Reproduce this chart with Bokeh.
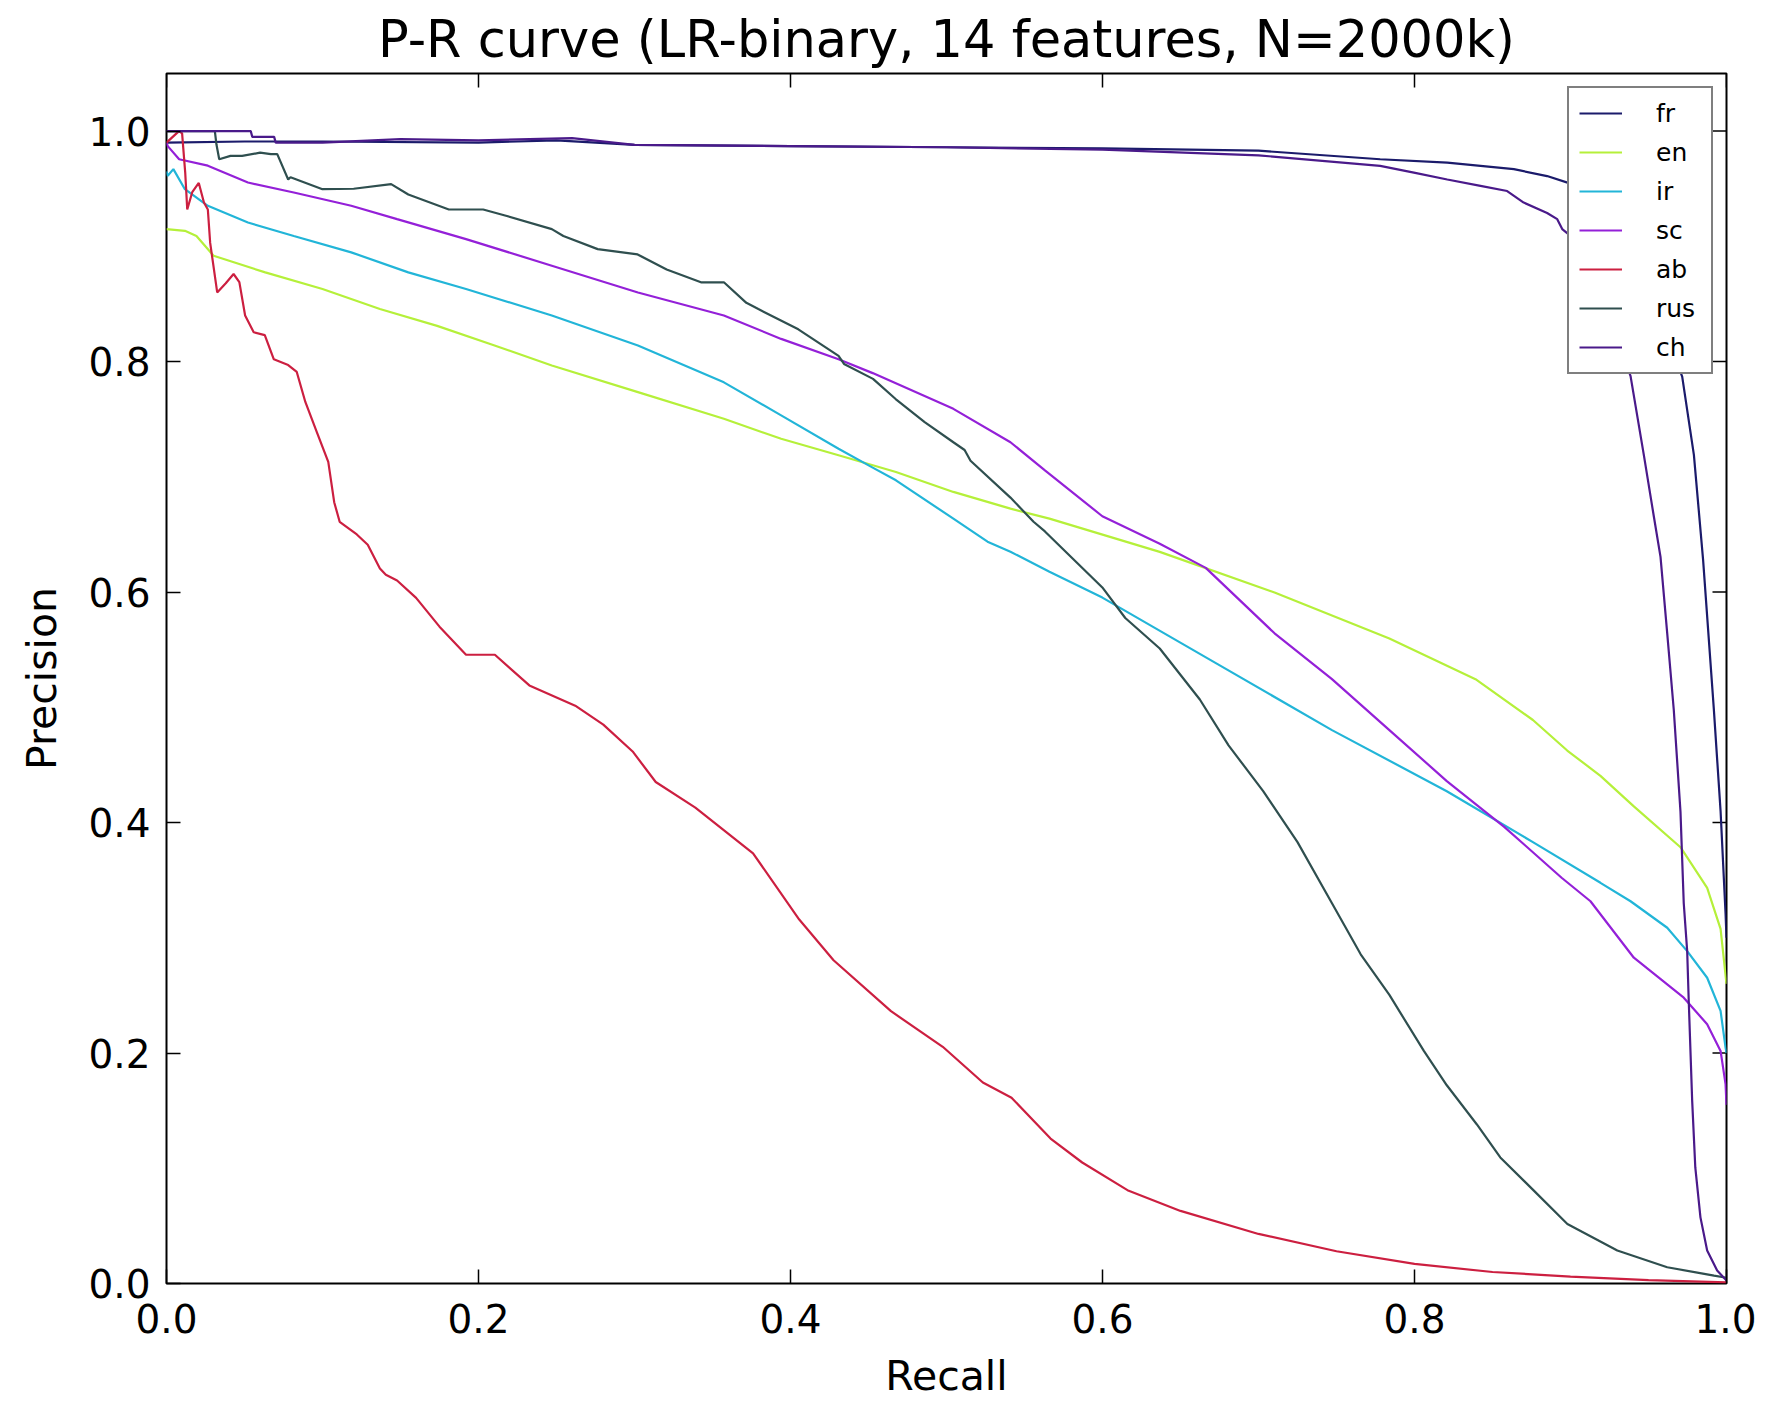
import math
from bokeh.plotting import figure
from bokeh.models import FixedTicker, Legend, LegendItem, Range1d, NumeralTickFormatter
from bokeh.embed import file_html
from bokeh.resources import INLINE

# ---- data ----
labels = ["fr", "en", "ir", "sc", "ab", "rus", "ch"]
colors = ["#1b1b6b", "#b5f03a", "#22b5d8", "#9420d8", "#cc1f40", "#2f4f4f", "#4a1a8a"]

recall_fr = [0.0, 0.05, 0.1, 0.2, 0.25, 0.3, 0.4, 0.5, 0.6, 0.7, 0.778, 0.821, 0.8637, 0.885, 0.901,
             0.94, 0.9716, 0.9791, 0.985, 0.9919, 0.9962, 0.9994, 1.0]
prec_fr = [0.99, 0.991, 0.991, 0.99, 0.992, 0.988, 0.987, 0.986, 0.985, 0.983, 0.9756, 0.9727, 0.967, 0.961, 0.954,
           0.90, 0.787, 0.719, 0.628, 0.498, 0.41, 0.321, 0.30]

recall_en = [0.0, 0.0118, 0.0192, 0.0302, 0.0633, 0.100, 0.1368, 0.1735, 0.2103, 0.247, 0.3022, 0.3573, 0.394,
             0.4308, 0.4676, 0.5044, 0.541, 0.566, 0.6367, 0.7103, 0.7839, 0.8391, 0.8759, 0.8979, 0.9192,
             0.9406, 0.9705, 0.9876, 0.9962, 1.0]
prec_en = [0.915, 0.9135, 0.909, 0.8918, 0.8774, 0.863, 0.8456, 0.831, 0.814, 0.7966, 0.7735, 0.7504, 0.733,
           0.7187, 0.7042, 0.6869, 0.6724, 0.6637, 0.6349, 0.5996, 0.5598, 0.5244, 0.489, 0.4625, 0.4405,
           0.414, 0.3786, 0.3433, 0.3078, 0.26]

recall_ir = [0.0, 0.0008, 0.0044, 0.0118, 0.0265, 0.0522, 0.0816, 0.1184, 0.155, 0.192, 0.247, 0.3022, 0.3573,
             0.394, 0.4308, 0.4527, 0.4676, 0.5044, 0.5263, 0.541, 0.566, 0.5999, 0.6735, 0.7471, 0.8207,
             0.8759, 0.9192, 0.9385, 0.962, 0.9748, 0.9876, 0.9962, 0.9994, 1.0]
prec_ir = [0.965, 0.9612, 0.967, 0.9496, 0.9352, 0.9207, 0.909, 0.8948, 0.8774, 0.863, 0.840, 0.814, 0.782,
           0.7533, 0.7244, 0.708, 0.697, 0.6637, 0.6437, 0.635, 0.6176, 0.5952, 0.5377, 0.4802, 0.4272,
           0.383, 0.3477, 0.3317, 0.3087, 0.2884, 0.2653, 0.2365, 0.2047, 0.20]

recall_sc = [0.0, 0.0008, 0.0081, 0.0265, 0.0522, 0.0816, 0.1184, 0.1478, 0.192, 0.247, 0.3022, 0.3573, 0.394,
             0.4308, 0.4527, 0.5044, 0.541, 0.5631, 0.5999, 0.6367, 0.6662, 0.7103, 0.7471, 0.7839, 0.8207,
             0.8575, 0.8943, 0.9128, 0.9406, 0.9726, 0.9876, 0.9962, 0.9994, 1.0]
prec_sc = [0.99, 0.987, 0.9756, 0.970, 0.9554, 0.9467, 0.9352, 0.9236, 0.9063, 0.8832, 0.860, 0.840, 0.8197,
           0.802, 0.79, 0.759, 0.730, 0.7056, 0.6658, 0.642, 0.621, 0.5642, 0.5244, 0.4802, 0.436,
           0.3963, 0.3521, 0.3317, 0.2827, 0.248, 0.225, 0.2018, 0.173, 0.155]

recall_ab = [0.0, 0.008, 0.010, 0.012, 0.0133, 0.0165, 0.0207, 0.024, 0.0265, 0.028, 0.0325, 0.038, 0.043,
             0.0467, 0.0504, 0.0559, 0.063, 0.0688, 0.078, 0.0835, 0.089, 0.0963, 0.1037, 0.1075, 0.111,
             0.122, 0.129, 0.1368, 0.1406, 0.1478, 0.16, 0.175, 0.192, 0.2105, 0.2326, 0.262, 0.28, 0.2988,
             0.3136, 0.339, 0.376, 0.4056, 0.4276, 0.4644, 0.4976, 0.5233, 0.5417, 0.5667, 0.587, 0.616,
             0.65, 0.7, 0.75, 0.8, 0.85, 0.9, 0.95, 1.0]
prec_ab = [0.99, 1.0, 0.998, 0.964, 0.932, 0.947, 0.955, 0.938, 0.932, 0.903, 0.860, 0.868, 0.876,
           0.869, 0.840, 0.8255, 0.823, 0.802, 0.797, 0.791, 0.765, 0.739, 0.713, 0.678, 0.661,
           0.650, 0.641, 0.6205, 0.615, 0.61, 0.595, 0.57, 0.5456, 0.5456, 0.519, 0.5014, 0.485, 0.4617,
           0.4352, 0.413, 0.3733, 0.3158, 0.2805, 0.2363, 0.2054, 0.1744, 0.1612, 0.1258, 0.105, 0.081,
           0.063, 0.043, 0.028, 0.017, 0.010, 0.006, 0.003, 0.001]

recall_rus = [0.0, 0.031, 0.032, 0.0338, 0.041, 0.0485, 0.060, 0.0669, 0.071, 0.078, 0.0795, 0.100, 0.12,
              0.144, 0.155, 0.181, 0.203, 0.2176, 0.247, 0.2544, 0.2764, 0.302, 0.3206, 0.3426, 0.3573,
              0.3717, 0.3794, 0.405, 0.4308, 0.4343, 0.4529, 0.4674, 0.486, 0.5044, 0.5116, 0.5154, 0.541,
              0.5558, 0.5631, 0.5999, 0.6146, 0.6367, 0.6624, 0.6808, 0.703, 0.725, 0.7471, 0.7655, 0.7839,
              0.806, 0.8207, 0.84, 0.855, 0.8765, 0.898, 0.930, 0.962, 0.992, 1.0]
prec_rus = [1.0, 1.0, 0.9886, 0.9756, 0.9785, 0.9785, 0.9813, 0.980, 0.98, 0.958, 0.96, 0.9496, 0.95,
            0.954, 0.945, 0.932, 0.932, 0.9266, 0.915, 0.909, 0.8976, 0.893, 0.880, 0.8688, 0.8688,
            0.851, 0.8456, 0.828, 0.805, 0.798, 0.785, 0.7675, 0.7475, 0.730, 0.7233, 0.714, 0.682,
            0.661, 0.6526, 0.604, 0.5775, 0.551, 0.5068, 0.467, 0.4272, 0.383, 0.33, 0.2857, 0.2504,
            0.2018, 0.172, 0.138, 0.1094, 0.0806, 0.0517, 0.0286, 0.0141, 0.0069, 0.005]

recall_ch = [0.0, 0.054, 0.055, 0.069, 0.07, 0.1, 0.15, 0.2, 0.26, 0.3, 0.4, 0.5, 0.6, 0.7, 0.778, 0.7996,
             0.821, 0.8423, 0.8594, 0.870, 0.885, 0.8915, 0.8947, 0.901, 0.92, 0.9385, 0.947, 0.9534,
             0.9577, 0.962, 0.9662, 0.9705, 0.9726, 0.9748, 0.9758, 0.978, 0.980, 0.9833, 0.9876, 0.994, 1.0]
prec_ch = [1.0, 1.0, 0.995, 0.995, 0.99, 0.99, 0.993, 0.992, 0.994, 0.988, 0.987, 0.986, 0.984, 0.979,
           0.9698, 0.964, 0.958, 0.9525, 0.948, 0.938, 0.929, 0.9236, 0.915, 0.908, 0.86, 0.7874, 0.719,
           0.6658, 0.6305, 0.5642, 0.4979, 0.4095, 0.33, 0.2884, 0.245, 0.1585, 0.1007, 0.0574, 0.0286,
           0.0113, 0.0026]

xs = [recall_fr, recall_en, recall_ir, recall_sc, recall_ab, recall_rus, recall_ch]
ys = [prec_fr, prec_en, prec_ir, prec_sc, prec_ab, prec_rus, prec_ch]

x_ticks = [0.0, 0.2, 0.4, 0.6, 0.8, 1.0]
y_ticks = [0.0, 0.2, 0.4, 0.6, 0.8, 1.0]
X_MAX = 1.0
Y_MAX = 1.05

FONT = "DejaVu Sans"

p = figure(frame_width=1560, frame_height=1210,
           x_range=Range1d(0, X_MAX), y_range=Range1d(0, Y_MAX),
           output_backend="svg", toolbar_location=None,
           min_border_left=166, min_border_top=73, min_border_right=30, min_border_bottom=110,
           title="P-R curve (LR-binary, 14 features, N=2000k)")

p.title.text_font = FONT
p.title.text_font_size = "51px"
p.title.text_font_style = "normal"
p.title.align = "center"
p.title.text_color = "black"

p.xgrid.visible = False
p.ygrid.visible = False
p.outline_line_color = "black"
p.outline_line_width = 2
p.outline_line_alpha = 1.0
p.background_fill_color = "white"
p.border_fill_color = "white"

for ax, ticks in ((p.xaxis[0], x_ticks), (p.yaxis[0], y_ticks)):
    ax.ticker = FixedTicker(ticks=ticks)
    ax.formatter = NumeralTickFormatter(format="0.0")
    ax.major_tick_in = 14
    ax.major_tick_out = 0
    ax.minor_tick_in = 0
    ax.minor_tick_out = 0
    ax.major_tick_line_color = "black"
    ax.major_tick_line_width = 1.5
    ax.axis_line_color = None
    ax.major_label_text_font = FONT
    ax.major_label_text_font_size = "39px"
    ax.major_label_text_color = "black"
    ax.axis_label_text_font = FONT
    ax.axis_label_text_font_size = "41px"
    ax.axis_label_text_font_style = "normal"
    ax.axis_label_text_color = "black"

p.xaxis[0].axis_label = "Recall"
p.yaxis[0].axis_label = "Precision"
p.xaxis[0].major_label_standoff = 20
p.xaxis[0].axis_label_standoff = 16
p.yaxis[0].major_label_standoff = 16
p.yaxis[0].axis_label_standoff = 19

# inward ticks on the top and right edges (matplotlib classic style)
p.ray(x=x_ticks, y=[Y_MAX] * len(x_ticks), length=14, length_units="screen",
      angle=-math.pi / 2, line_color="black", line_width=1.5)
p.ray(x=[X_MAX] * len(y_ticks), y=y_ticks, length=14, length_units="screen",
      angle=math.pi, line_color="black", line_width=1.5)

items = []
for lab, col, xv, yv in zip(labels, colors, xs, ys):
    r = p.line(xv, yv, line_color=col, line_width=2.2)
    items.append(LegendItem(label=lab, renderers=[r]))

legend = Legend(items=items, location="top_right")
legend.margin = 13
legend.padding = 10
legend.spacing = 9
legend.glyph_width = 43
legend.glyph_height = 30
legend.label_standoff = 34
legend.label_width = 45
legend.label_height = 30
legend.label_text_font = FONT
legend.label_text_font_size = "25px"
legend.label_text_color = "black"
legend.border_line_color = "black"
legend.border_line_width = 2
legend.background_fill_color = "white"
legend.background_fill_alpha = 1.0
p.add_layout(legend, "center")

html = file_html(p, INLINE, title="P-R curve")
open("out.html", "w").write(html)
